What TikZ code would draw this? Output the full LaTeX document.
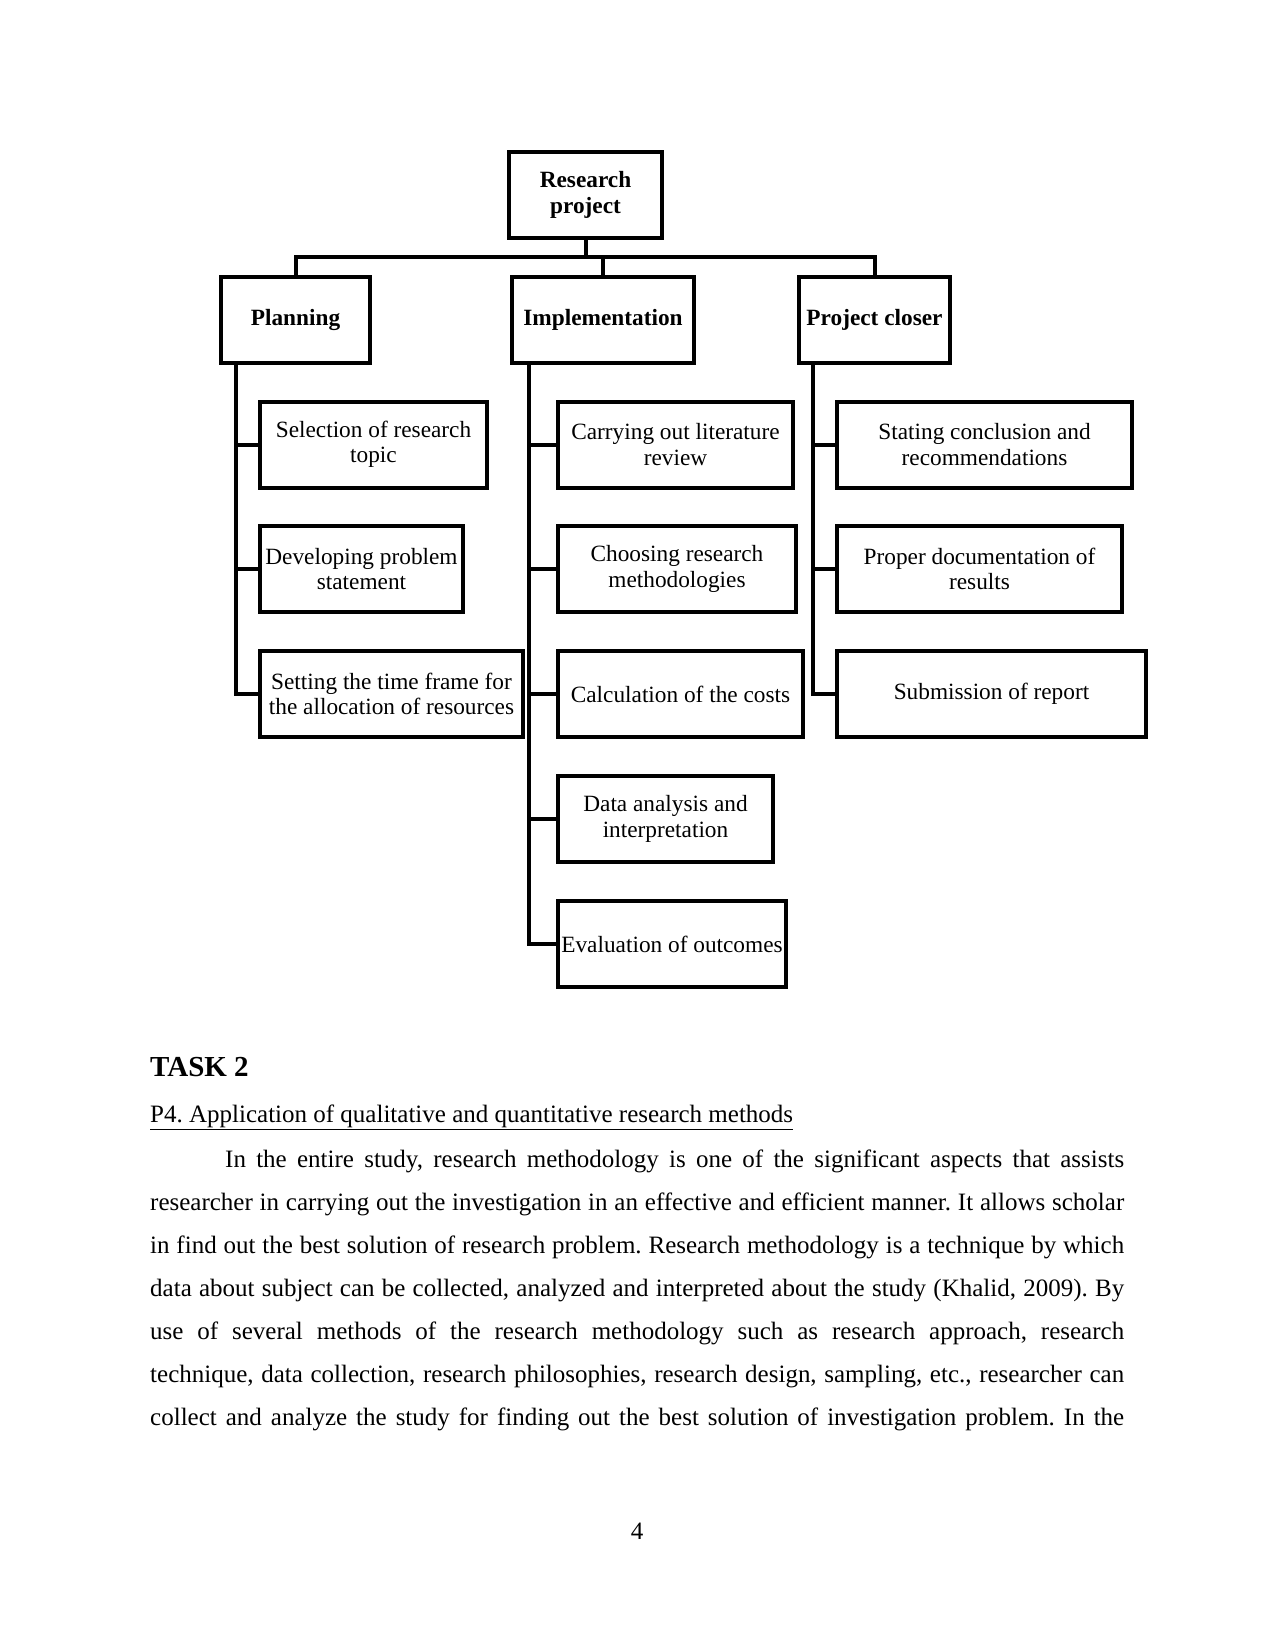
\documentclass[tikz,border=0pt]{standalone}
\usepackage{fontspec}
\setmainfont{Liberation Serif}
\frenchspacing
\begin{document}
\begin{tikzpicture}[x=1pt,y=1pt,
  box/.style={draw, line width=4pt, inner sep=2pt, align=center,
    font=\fontsize{23.3}{25.5}\selectfont, minimum height=86pt},
  hdr/.style={box, font=\bfseries\fontsize{23.3}{25.5}\selectfont},
  conn/.style={line width=4pt, line cap=rect},
  body/.style={anchor=base west, inner sep=0pt, font=\frenchspacing\fontsize{25}{30}\selectfont}
]
\fill[white] (0,0) rectangle (1275,-1650);
\useasboundingbox (0,0) rectangle (1275,-1650);

% top level
\node[hdr, minimum width=153pt] (rp) at (585.5,-195) {Research\\project};
\node[hdr, minimum width=149pt] (plan) at (295.5,-319.5) {Planning};
\node[hdr, minimum width=182pt] (impl) at (603,-319.5) {Implementation};
\node[hdr, minimum width=151pt] (pc) at (874.5,-319.5) {Project closer};

\coordinate (bus) at (0,-256.5);
\draw[conn] (rp.south) -- (rp.south |- bus);
\draw[conn] (plan.north) -- (plan.north |- bus) -- (pc.north |- bus) -- (pc.north);
\draw[conn] (impl.north) -- (impl.north |- bus);

% planning children
\node[box, minimum width=227pt] (s1) at (373.5,-444.5) {Selection of research\\topic};
\node[box, minimum width=203pt] (s2) at (361.5,-569) {Developing problem\\statement};
\node[box, minimum width=263pt] (s3) at (391.5,-694) {Setting the time frame for\\the allocation of resources};

% implementation children
\node[box, minimum width=235pt] (i1) at (675.5,-444.5) {Carrying out literature\\review};
\node[box, minimum width=238pt] (i2) at (677,-569) {Choosing research\\methodologies};
\node[box, minimum width=245pt] (i3) at (680.5,-694) {Calculation of the costs};
\node[box, minimum width=215pt] (i4) at (665.5,-819) {Data analysis and\\interpretation};
\node[box, minimum width=228pt] (i5) at (672,-944) {Evaluation of outcomes};

% project closer children
\node[box, minimum width=295pt] (c1) at (984.5,-444.5) {Stating conclusion and\\recommendations};
\node[box, minimum width=285pt] (c2) at (979.5,-569) {Proper documentation of\\results};
\node[box, minimum width=309pt] (c3) at (991.5,-694) {Submission of report};

% vertical spines
\coordinate (pv) at (236,0);
\coordinate (iv) at (529,0);
\coordinate (cv) at (813,0);

\draw[conn] (plan.south -| pv) |- (s3.west);
\draw[conn] (s1.west) -- (s1.west -| pv);
\draw[conn] (s2.west) -- (s2.west -| pv);

\draw[conn] (impl.south -| iv) |- (i5.west);
\draw[conn] (i1.west) -- (i1.west -| iv);
\draw[conn] (i2.west) -- (i2.west -| iv);
\draw[conn] (i3.west) -- (i3.west -| iv);
\draw[conn] (i4.west) -- (i4.west -| iv);

\draw[conn] (pc.south -| cv) |- (c3.west);
\draw[conn] (c1.west) -- (c1.west -| cv);
\draw[conn] (c2.west) -- (c2.west -| cv);

% text below
\node[anchor=base west, inner sep=0pt, font=\bfseries\fontsize{29}{34}\selectfont] (task) at (150,-1076) {TASK 2};
\node[body] (head) at (150,-1122) {\underline{P4. Application of qualitative and quantitative research methods}};
\node[body] (l1) at (225,-1167) {\makebox[899pt][s]{In the entire study, research methodology is one of the significant aspects that assists}};
\node[body] (l2) at (150,-1210) {\makebox[974pt][s]{researcher in carrying out the investigation in an effective and efficient manner. It allows scholar}};
\node[body] (l3) at (150,-1253) {\makebox[974pt][s]{in find out the best solution of research problem. Research methodology is a technique by which}};
\node[body] (l4) at (150,-1296) {\makebox[974pt][s]{data about subject can be collected, analyzed and interpreted about the study (Khalid, 2009). By}};
\node[body] (l5) at (150,-1339) {\makebox[974pt][s]{use of several methods of the research methodology such as research approach, research}};
\node[body] (l6) at (150,-1382) {\makebox[974pt][s]{technique, data collection, research philosophies, research design, sampling, etc., researcher can}};
\node[body] (l7) at (150,-1425) {\makebox[974pt][s]{collect and analyze the study for finding out the best solution of investigation problem. In the}};
\node[anchor=base, inner sep=0pt, font=\fontsize{25}{30}\selectfont] (pg) at (637,-1539) {4};
\end{tikzpicture}
\end{document}
